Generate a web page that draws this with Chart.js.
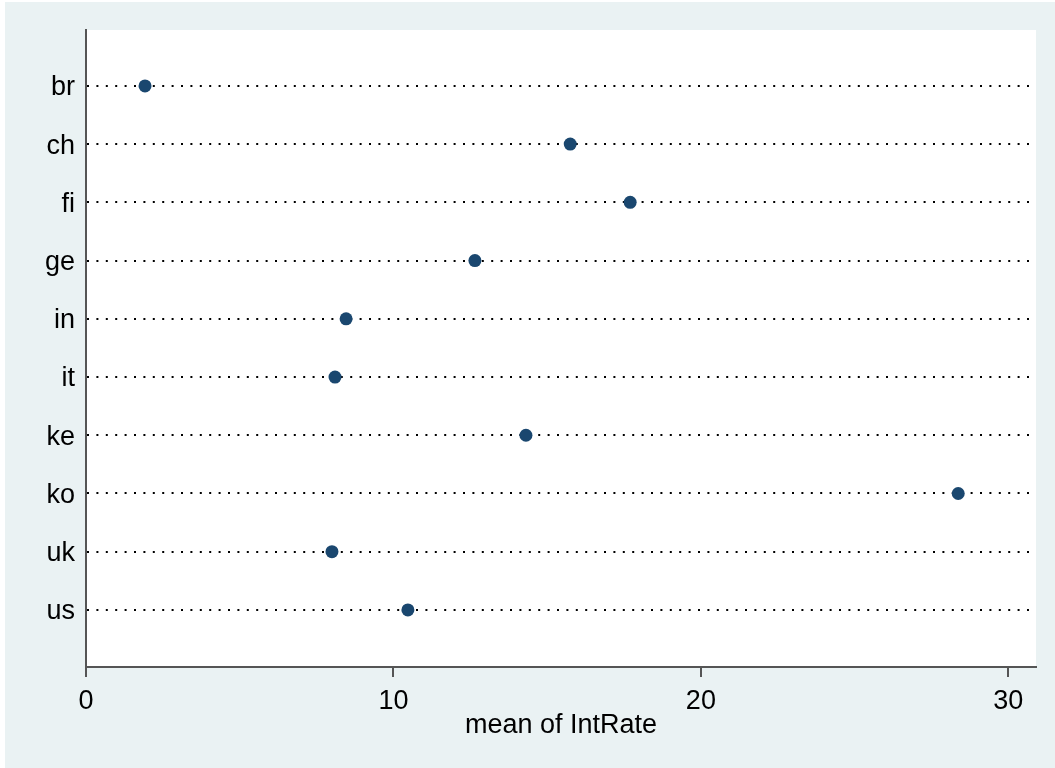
<!DOCTYPE html>
<html>
<head>
<meta charset="utf-8">
<script src="https://cdn.jsdelivr.net/npm/chart.js@4"></script>
<style>
  html, body { margin: 0; padding: 0; background: #fff; }
  #wrap { width: 1055px; height: 768px; }
</style>
</head>
<body>
<div id="wrap"><canvas id="myChart" width="1055" height="768"></canvas></div>
<script>
// dot plot: mean of IntRate by country
var countries = ['br', 'ch', 'fi', 'ge', 'in', 'it', 'ke', 'ko', 'uk', 'us'];
var meanIntRate = [1.92, 15.75, 17.70, 12.65, 8.46, 8.10, 14.31, 28.37, 8.00, 10.47];
var xTicks = [0, 10, 20, 30];

var points = meanIntRate.map(function(v, i) {
    return { x: v, y: i };
});

// light stata-like background with white plot region
var bgPlugin = {
    id: 'bg',
    beforeDraw: function(chart) {
        var c = chart.ctx, a = chart.chartArea;
        c.save();
        c.fillStyle = '#eaf2f3';
        c.fillRect(5, 2, chart.width - 5, chart.height - 2);
        c.fillStyle = '#ffffff';
        c.fillRect(a.left, a.top, a.right - a.left, a.bottom - a.top);
        c.restore();
    }
};

var fontFam = 'Liberation Sans, Arial, sans-serif';

var ctx = document.getElementById('myChart').getContext('2d');
var myChart = new Chart(ctx, {
    type: 'scatter',
    data: {
        datasets: [{
            label: 'mean of IntRate',
            data: points,
            backgroundColor: '#1a476f',
            borderWidth: 0,
            pointRadius: 6.5,
            pointHoverRadius: 6.5
        }]
    },
    plugins: [bgPlugin],
    options: {
        responsive: false,
        animation: false,
        layout: { padding: { left: 0, top: 30, right: 19, bottom: 0 } },
        plugins: {
            legend: { display: false },
            tooltip: { enabled: false }
        },
        scales: {
            x: {
                type: 'linear',
                min: 0,
                max: 30.9,
                afterBuildTicks: function(axis) {
                    axis.ticks = xTicks.map(function(v) { return { value: v }; });
                },
                afterFit: function(axis) { axis.height = 101; },
                grid: {
                    drawOnChartArea: false,
                    drawTicks: true,
                    tickLength: 10,
                    color: '#555',
                    lineWidth: 2
                },
                border: { display: true, color: '#555', width: 2 },
                ticks: {
                    color: '#000',
                    padding: 8,
                    maxRotation: 0,
                    font: { family: fontFam, size: 27 }
                },
                title: {
                    display: true,
                    text: 'mean of IntRate',
                    color: '#000',
                    padding: { top: 0, bottom: 26 },
                    font: { family: fontFam, size: 27 }
                }
            },
            y: {
                type: 'linear',
                reverse: true,
                min: -0.96,
                max: 9.98,
                afterBuildTicks: function(axis) {
                    axis.ticks = countries.map(function(c, i) { return { value: i }; });
                },
                afterFit: function(axis) { axis.width = 86; },
                grid: {
                    drawTicks: false,
                    color: '#000',
                    lineWidth: 2
                },
                border: { display: true, color: '#555', width: 2, dash: [2, 7.4] },
                ticks: {
                    color: '#000',
                    padding: 11,
                    labelOffset: 2,
                    font: { family: fontFam, size: 27 },
                    callback: function(value) { return countries[value]; }
                }
            }
        }
    }
});
</script>
</body>
</html>
